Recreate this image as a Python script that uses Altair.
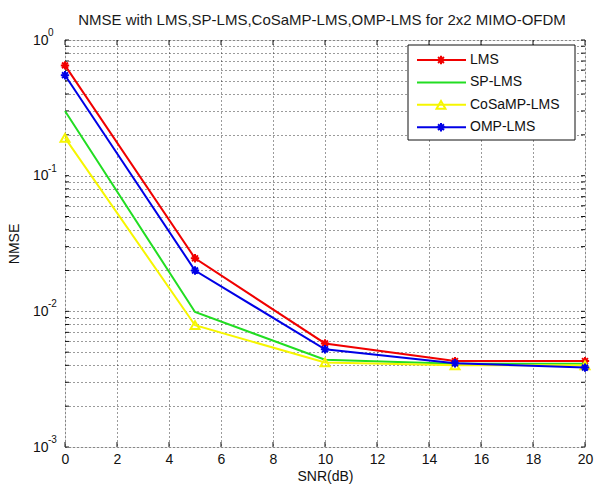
import altair as alt
import pandas as pd

# ---- data ----
snr = [0, 5, 10, 15, 20]
series_names = ["LMS", "SP-LMS", "CoSaMP-LMS", "OMP-LMS"]
lms = [0.65, 0.0246, 0.0058, 0.0043, 0.0043]
sp_lms = [0.30, 0.0099, 0.0044, 0.0041, 0.0041]
cosamp_lms = [0.19, 0.0079, 0.0042, 0.0040, 0.0040]
omp_lms = [0.55, 0.0200, 0.00525, 0.00414, 0.00385]

title_text = "NMSE with LMS,SP-LMS,CoSaMP-LMS,OMP-LMS for 2x2 MIMO-OFDM"
x_ticks = [0, 2, 4, 6, 8, 10, 12, 14, 16, 18, 20]
y_decades = [1, 0.1, 0.01, 0.001]
y_exponents = ["0", "-1", "-2", "-3"]
y_grid = [0.001, 0.002, 0.003, 0.004, 0.005, 0.006, 0.007, 0.008, 0.009,
          0.01, 0.02, 0.03, 0.04, 0.05, 0.06, 0.07, 0.08, 0.09,
          0.1, 0.2, 0.3, 0.4, 0.5, 0.6, 0.7, 0.8, 0.9, 1]

colors = ["#f00000", "#22dd22", "#f6f600", "#0000e6"]
STAR = "M0,-1L0,1M-1,0L1,0M-0.7,-0.7L0.7,0.7M-0.7,0.7L0.7,-0.7"
shapes = [STAR, None, "triangle-up", STAR]

values = [lms, sp_lms, cosamp_lms, omp_lms]
rows = []
for name, vals in zip(series_names, values):
    for x, v in zip(snr, vals):
        rows.append({"series": name, "snr": x, "nmse": v})
df = pd.DataFrame(rows)

W, H = 520, 407
FONT = "Liberation Sans"

xscale = alt.Scale(domain=[0, 20], nice=False, zero=False)
yscale = alt.Scale(type="log", domain=[0.001, 1], nice=False)

xaxis = alt.Axis(values=x_ticks, grid=True, gridDash=[1, 3], gridColor="#222",
                 gridOpacity=0.9, ticks=False, tickSize=0, domain=False,
                 labelFontSize=14, labelPadding=5, labelFlush=False,
                 labelColor="#111", title="SNR(dB)", titleFontSize=14,
                 titleFontWeight="normal", titlePadding=3, titleColor="#111",
                 labelFont=FONT, titleFont=FONT)
yaxis = alt.Axis(values=y_grid, grid=True, gridDash=[1, 3], gridColor="#222",
                 gridOpacity=0.9, ticks=False, tickSize=0, domain=False,
                 labelExpr="(datum.value==1||datum.value==0.1||datum.value==0.01||datum.value==0.001) ? '10' : ''",
                 labelFontSize=14, labelPadding=17, labelColor="#111",
                 labelFlush=False, labelOverlap=False,
                 title="NMSE", titleFontSize=14, titleFontWeight="normal",
                 titlePadding=11, titleColor="#111", labelFont=FONT, titleFont=FONT)


def X(field):
    return alt.X(field, type="quantitative", scale=xscale, axis=xaxis)


def Y(field):
    return alt.Y(field, type="quantitative", scale=yscale, axis=yaxis)


base = alt.Chart(df)
layers = []

# inward ticks
xt = pd.DataFrame({"snr": x_ticks})
yt = pd.DataFrame({"nmse": y_grid})
tick_style = dict(color="#111", strokeWidth=1)
layers.append(alt.Chart(xt).mark_rule(**tick_style).encode(
    x=X("snr"), y=alt.value(H), y2=alt.value(H - 5)))
layers.append(alt.Chart(xt).mark_rule(**tick_style).encode(
    x=X("snr"), y=alt.value(0), y2=alt.value(5)))
layers.append(alt.Chart(yt).mark_rule(**tick_style).encode(
    y=Y("nmse"), x=alt.value(0), x2=alt.value(4)))
layers.append(alt.Chart(yt).mark_rule(**tick_style).encode(
    y=Y("nmse"), x=alt.value(W), x2=alt.value(W - 4)))

# exponent labels
ed = pd.DataFrame({"nmse": y_decades, "e": y_exponents})
layers.append(alt.Chart(ed).mark_text(align="left", baseline="middle", fontSize=10,
                                      font=FONT, color="#111", dy=-7).encode(
    y=Y("nmse"), x=alt.value(-17), text="e:N"))

# title as text mark
layers.append(alt.Chart(pd.DataFrame({"t": [title_text]})).mark_text(
    align="center", baseline="alphabetic", fontSize=15, font=FONT, color="#1a1a1a").encode(
    x=alt.value(W / 2 - 3), y=alt.value(-15), text="t:N"))

# series lines + markers, drawn in legend order
for name, col, shp in zip(series_names, colors, shapes):
    sub = base.transform_filter(alt.datum.series == name)
    layers.append(sub.mark_line(color=col, strokeWidth=2).encode(
        x=X("snr"), y=Y("nmse")))
    if shp is not None:
        layers.append(sub.mark_point(shape=shp, filled=False, color=col,
                                     strokeWidth=2, size=70 if shp == STAR else 80,
                                     opacity=1).encode(x=X("snr"), y=Y("nmse")))

# manual legend
LX0, LX1, LY0, LY1 = 343, 510, 5, 100
layers.append(alt.Chart(pd.DataFrame({"a": [0]})).mark_rect(
    fill="white", stroke="#111", strokeWidth=1).encode(
    x=alt.value(LX0), x2=alt.value(LX1), y=alt.value(LY0), y2=alt.value(LY1)))

ld = pd.DataFrame({"series": series_names,
                   "ly": [20 + i * 22.4 for i in range(len(series_names))]})
for i, (name, col, shp) in enumerate(zip(series_names, colors, shapes)):
    row = ld[ld.series == name]
    c = alt.Chart(row)
    layers.append(c.mark_rule(color=col, strokeWidth=2).encode(
        x=alt.value(352), x2=alt.value(401),
        y=alt.Y("ly:Q", scale=None, axis=None)))
    if shp is not None:
        layers.append(c.mark_point(shape=shp, filled=False, color=col, strokeWidth=2,
                                   size=70 if shp == STAR else 80, opacity=1).encode(
            x=alt.value(376), y=alt.Y("ly:Q", scale=None, axis=None)))
    layers.append(c.mark_text(align="left", baseline="middle", fontSize=14,
                              font=FONT, color="#111").encode(
        x=alt.value(405), y=alt.Y("ly:Q", scale=None, axis=None), text="series:N"))

chart = alt.layer(*layers).properties(
    width=W, height=H,
    autosize=alt.AutoSizeParams(type="none"),
    padding={"left": 65, "top": 40, "right": 9, "bottom": 44},
).configure_view(stroke="#111", strokeWidth=1).configure(background="white")

chart.save("out.html", embed_options={"renderer": "svg", "actions": False})
